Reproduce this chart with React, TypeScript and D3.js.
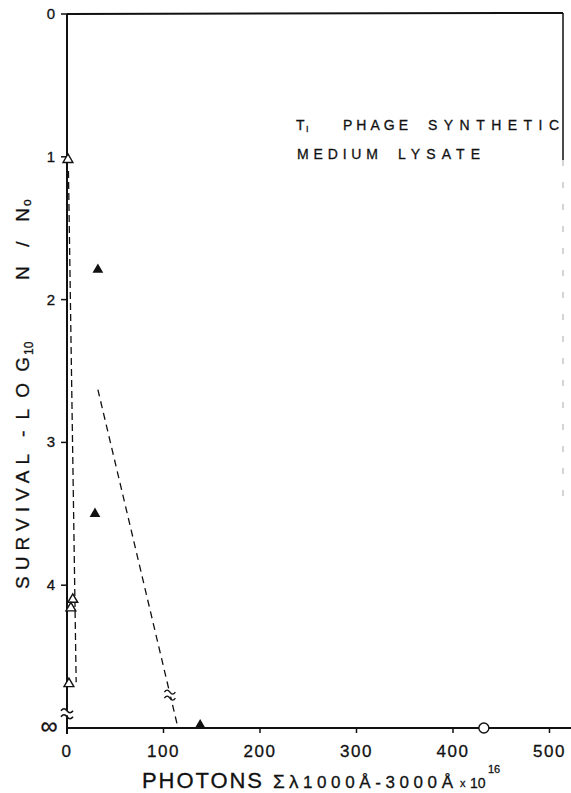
import React from "react";
import * as d3 from "d3";

// ---- data ----
const xTickValues = [0, 100, 200, 300, 400, 500];
const yTickValues = [0, 1, 2, 3, 4];
const yInfValue = 5; // "∞" row
const openTriX = [1, 6, 4, 2];
const openTriY = [1.02, 4.1, 4.16, 4.69];
const filledTriX = [32, 29, 138];
const filledTriY = [1.79, 3.5, 4.98];
const openCircleX = [432];
const openCircleY = [5];
const dash1X = [1.5, 9.5];
const dash1Y = [1.1, 4.68];
const dash2X = [32, 114];
const dash2Y = [2.63, 4.97];

const W = 571;
const H = 793;
const FONT = "'Liberation Sans', Arial, sans-serif";

export default function App() {
  const x = d3.scaleLinear().domain([0, 514]).range([67, 563]);
  const y = d3.scaleLinear().domain([0, 5]).range([14, 728]);
  const line = d3.line<[number, number]>().x((d) => x(d[0])).y((d) => y(d[1]));
  const triOpen = d3.symbol(d3.symbolTriangle, 42)()!;
  const triFilled = d3.symbol(d3.symbolTriangle, 50)()!;

  const x0 = x(0);
  const yBottom = y(yInfValue);
  const yTop = y(0);
  const xRight = x(514);

  const breakY = y(4.89);
  const d2break: [number, number] = [
    dash2X[0] + (dash2X[1] - dash2X[0]) * 0.91,
    dash2Y[0] + (dash2Y[1] - dash2Y[0]) * 0.91,
  ];
  const wave = (cx: number, cy: number, w: number) =>
    `M${cx - w / 2},${cy + 1.5} q${w / 4},-4 ${w / 2},0 t${w / 2},0`;

  const T = (props: any) => (
    <text fontFamily={FONT} fill="#111" stroke="#111" strokeWidth={0.3} lengthAdjust="spacing" {...props} />
  );

  return (
    <svg width={W} height={H} style={{ position: "absolute", left: 0, top: 0, background: "#fff" }}>
      <rect width={W} height={H} fill="#fff" />
      {/* frame */}
      <line x1={x0} x2={xRight} y1={yTop} y2={yTop - 1} stroke="#111" strokeWidth={2} />
      <line x1={xRight} x2={xRight} y1={yTop - 1} y2={160} stroke="#111" strokeWidth={1.5} />
      <line x1={xRight} x2={xRight} y1={160} y2={500} stroke="#aaa" strokeWidth={1} strokeDasharray="6 16" />
      <line x1={x0} x2={x0} y1={yTop} y2={yBottom + 6} stroke="#111" strokeWidth={2} />
      <line x1={x0} x2={W} y1={yBottom} y2={yBottom} stroke="#111" strokeWidth={2} />

      {/* axis break on left axis */}
      <rect x={x0 - 3} y={breakY - 2} width={6} height={5} fill="#fff" />
      <path d={wave(x0, breakY - 3, 12)} fill="none" stroke="#111" strokeWidth={1.6} />
      <path d={wave(x0, breakY + 3, 12)} fill="none" stroke="#111" strokeWidth={1.6} />

      {/* y ticks */}
      {yTickValues.map((v) => (
        <g key={"yt" + v}>
          <line x1={x0 - 6} x2={x0} y1={y(v)} y2={y(v)} stroke="#111" strokeWidth={1.5} />
          <T x={55} y={y(v) + 5} textAnchor="end" fontSize={15}>
            {v}
          </T>
        </g>
      ))}
      <T x={49} y={yBottom + 6} textAnchor="middle" fontSize={24}>
        ∞
      </T>

      {/* x ticks */}
      {xTickValues.map((v) => (
        <g key={"xt" + v}>
          <line x1={x(v)} x2={x(v)} y1={yBottom} y2={yBottom + 5} stroke="#111" strokeWidth={1.5} />
          <T x={x(v)} y={757} textAnchor="middle" fontSize={17} letterSpacing={1.5}>
            {v}
          </T>
        </g>
      ))}

      {/* dashed lines */}
      <path
        d={line(dash1X.map((v, i) => [v, dash1Y[i]]))!}
        fill="none"
        stroke="#111"
        strokeWidth={1.3}
        strokeDasharray="7 4"
      />
      <path
        d={line(dash2X.map((v, i) => [v, dash2Y[i]]))!}
        fill="none"
        stroke="#111"
        strokeWidth={1.3}
        strokeDasharray="7 5"
      />
      {/* break on dashed line */}
      <rect x={x(d2break[0]) - 4} y={y(d2break[1]) - 3} width={8} height={6} fill="#fff" />
      <path d={wave(x(d2break[0]), y(d2break[1]) - 3, 11)} fill="none" stroke="#111" strokeWidth={1.3} />
      <path d={wave(x(d2break[0]), y(d2break[1]) + 3, 11)} fill="none" stroke="#111" strokeWidth={1.3} />

      {/* markers */}
      {openTriX.map((v, i) => (
        <path
          key={"ot" + i}
          d={triOpen}
          transform={`translate(${x(v)},${y(openTriY[i])})`}
          fill="#fff"
          stroke="#111"
          strokeWidth={1.4}
        />
      ))}
      {filledTriX.map((v, i) => (
        <path key={"ft" + i} d={triFilled} transform={`translate(${x(v)},${y(filledTriY[i])})`} fill="#111" />
      ))}
      {openCircleX.map((v, i) => (
        <circle key={"oc" + i} cx={x(v)} cy={y(openCircleY[i])} r={5} fill="#fff" stroke="#111" strokeWidth={1.4} />
      ))}

      {/* annotation */}
      <T x={296} y={130} fontSize={14}>
        T
      </T>
      <T x={306} y={132} fontSize={9}>
        I
      </T>
      <T x={343} y={130} fontSize={14} textLength={65}>
        PHAGE
      </T>
      <T x={428} y={130} fontSize={14} textLength={131}>
        SYNTHETIC
      </T>
      <T x={297} y={159} fontSize={14} textLength={81}>
        MEDIUM
      </T>
      <T x={398} y={159} fontSize={14} textLength={82}>
        LYSATE
      </T>

      {/* x title */}
      <T x={142} y={788} fontSize={22} textLength={120}>
        PHOTONS
      </T>
      <T x={273} y={788} fontSize={19}>
        Σ
      </T>
      <T x={289} y={788} fontSize={19}>
        λ
      </T>
      <T x={303} y={788} fontSize={17} textLength={150}>
        1000Å-3000Å
      </T>
      <T x={460} y={787} fontSize={11}>
        x
      </T>
      <T x={470} y={788} fontSize={14}>
        10
      </T>
      <T x={488} y={773} fontSize={11}>
        16
      </T>

      {/* y title */}
      <g transform="rotate(-90)">
        <T x={-589} y={29} fontSize={19} textLength={135}>
          SURVIVAL
        </T>
        <T x={-437} y={29} fontSize={19} textLength={80}>
          -LOG
        </T>
        <T x={-355} y={33} fontSize={12}>
          10
        </T>
        <T x={-280} y={29} fontSize={19} textLength={72}>
          N/N
        </T>
        <T x={-206} y={31} fontSize={12}>
          o
        </T>
      </g>
    </svg>
  );
}
